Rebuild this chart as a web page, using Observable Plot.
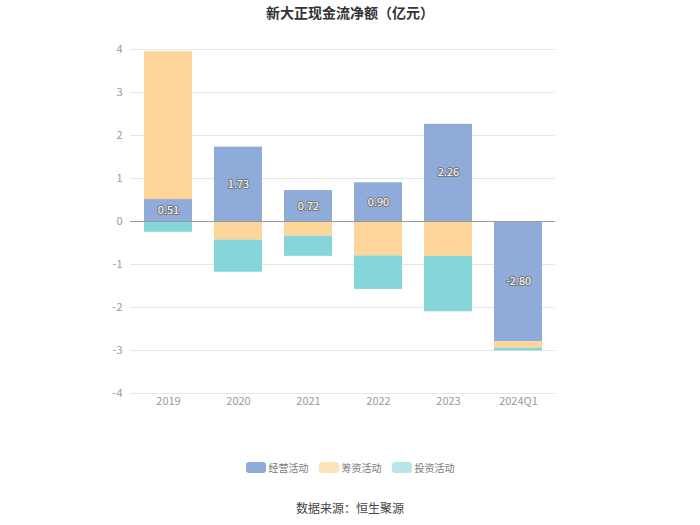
<!DOCTYPE html>
<html>
<head>
<meta charset="utf-8">
<script src="https://cdn.jsdelivr.net/npm/d3@7"></script>
<script src="https://cdn.jsdelivr.net/npm/@observablehq/plot@0.6"></script>
<style>
  body { margin: 0; background: #fff; font-family: "Noto Sans CJK SC", "Noto Sans", sans-serif; }
  #wrap { width: 700px; height: 525px; position: relative; }
  #title { height: 26px; line-height: 24px; text-align: center; font-size: 14px; font-weight: bold; color: #333; }
  #legend { position: absolute; top: 460px; left: 0; width: 700px; display: flex; justify-content: center; gap: 10px; font-size: 10px; color: #777; }
  #legend .item { display: flex; align-items: center; gap: 3px; }
  #legend .sw { width: 20px; height: 11px; border-radius: 3px; display: inline-block; }
  #caption { position: absolute; top: 499px; left: 0; width: 700px; text-align: center; font-size: 12px; color: #444; }
</style>
</head>
<body>
<div id="wrap">
  <div id="title">新大正现金流净额（亿元）</div>
  <div id="chart"></div>
  <div id="legend"></div>
  <div id="caption">数据来源：恒生聚源</div>
</div>
<script>
const years = ["2019", "2020", "2021", "2022", "2023", "2024Q1"];
const seriesNames = ["经营活动", "筹资活动", "投资活动"];
const operating = [0.51, 1.73, 0.72, 0.90, 2.26, -2.80];
const financing = [3.44, -0.43, -0.34, -0.80, -0.81, -0.15];
const investing = [-0.25, -0.75, -0.47, -0.78, -1.29, -0.06];
const colors = ["#8eabd9", "#ffd699", "#86d5d8"];
const legendColors = ["#8eabd9", "#ffe3bb", "#b8e6e8"];
const yTicks = [-4, -3, -2, -1, 0, 1, 2, 3, 4];

const seriesValues = [operating, financing, investing];
const data = [];
seriesNames.forEach((s, i) => {
  years.forEach((y, j) => data.push({ year: y, type: s, value: seriesValues[i][j] }));
});
const labels = years.map((y, j) => ({ year: y, value: operating[j] }));

const chart = Plot.plot({
  width: 700,
  height: 396,
  marginTop: 23,
  marginBottom: 29,
  marginLeft: 130,
  marginRight: 145,
  style: { fontFamily: "'Noto Sans CJK SC', 'Noto Sans', sans-serif", fontSize: "11px", color: "#999" },
  x: { domain: years, label: null, paddingInner: 0.32, paddingOuter: 0.16, tickSize: 0, tickPadding: 4 },
  y: { domain: [-4, 4], ticks: yTicks, label: null, tickSize: 0, tickPadding: 8, tickFormat: d => String(d) },
  color: { domain: seriesNames, range: colors },
  marks: [
    Plot.gridY(yTicks, { stroke: "#e6e6e6", strokeOpacity: 1 }),
    Plot.barY(data, { x: "year", y: "value", fill: "type", z: "type", order: seriesNames }),
    Plot.ruleY([0], { stroke: "#999", strokeWidth: 1 }),
    Plot.text(labels, {
      x: "year",
      y: d => d.value / 2,
      text: d => d.value.toFixed(2),
      fill: "white",
      stroke: "#777",
      strokeWidth: 2,
      fontSize: 11
    })
  ]
});
document.getElementById("chart").appendChild(chart);

const legend = document.getElementById("legend");
seriesNames.forEach((s, i) => {
  const item = document.createElement("div");
  item.className = "item";
  const sw = document.createElement("span");
  sw.className = "sw";
  sw.style.background = legendColors[i];
  const t = document.createElement("span");
  t.textContent = s;
  item.appendChild(sw);
  item.appendChild(t);
  legend.appendChild(item);
});
</script>
</body>
</html>
